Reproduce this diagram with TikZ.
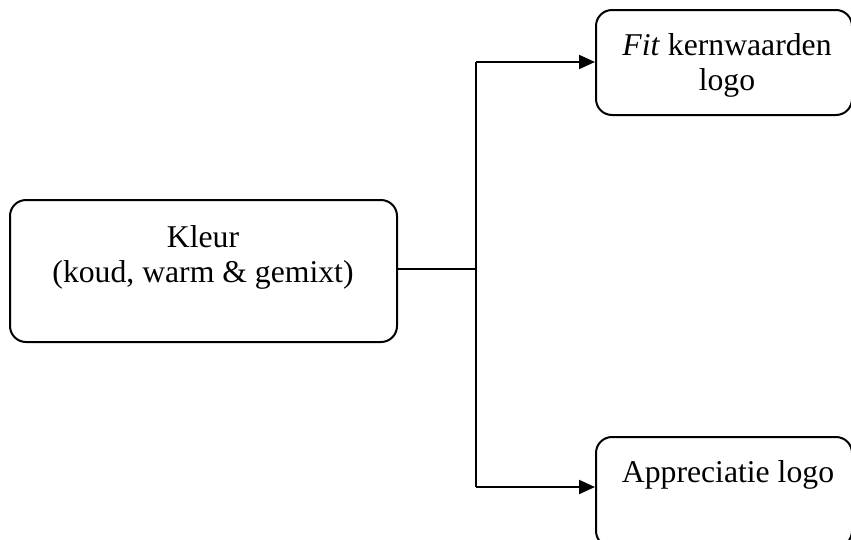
\documentclass[tikz,border=0pt]{standalone}
\usepackage{fontspec}
\setmainfont{Liberation Serif}
\usetikzlibrary{arrows.meta}
\tikzset{
  box/.style={draw, line width=2pt, rounded corners=16pt, inner sep=0pt},
  lbl/.style={align=center, inner sep=0pt, font=\fontsize{31.7}{35}\selectfont},
  conn/.style={line width=2pt},
  arr/.style={conn, -{Triangle[length=16pt,width=14pt]}}
}
\begin{document}
\begin{tikzpicture}[x=1pt,y=-1pt]
\useasboundingbox (0,0) rectangle (851,539);
\clip (0,0) rectangle (851,539);
% boxes
\node[box, minimum width=387pt, minimum height=142pt] (kleur) at (203.5,271) {};
\node[box, minimum width=256pt, minimum height=105pt] (fit) at (724,62.5) {};
\node[box, minimum width=256pt, minimum height=110pt] (appr) at (724,492) {};
% texts
\node[lbl, anchor=base] (kleurt) at (203,282) {Kleur\\(koud, warm \& gemixt)};
\node[lbl, anchor=base] (fitt) at (727,90) {\textit{Fit} kernwaarden\\logo};
\node[lbl, anchor=base] (apprt) at (728,482) {Appreciatie logo};
% connectors
\coordinate (j) at (476,269);
\coordinate (jt) at (476,62);
\coordinate (jb) at (476,487);
\draw[conn] (kleur.east |- j) -- (j);
\draw[conn] (jt) -- (jb);
\draw[arr] (jt) -- (jt -| fit.west);
\draw[arr] (jb) -- (jb -| appr.west);
\end{tikzpicture}
\end{document}
